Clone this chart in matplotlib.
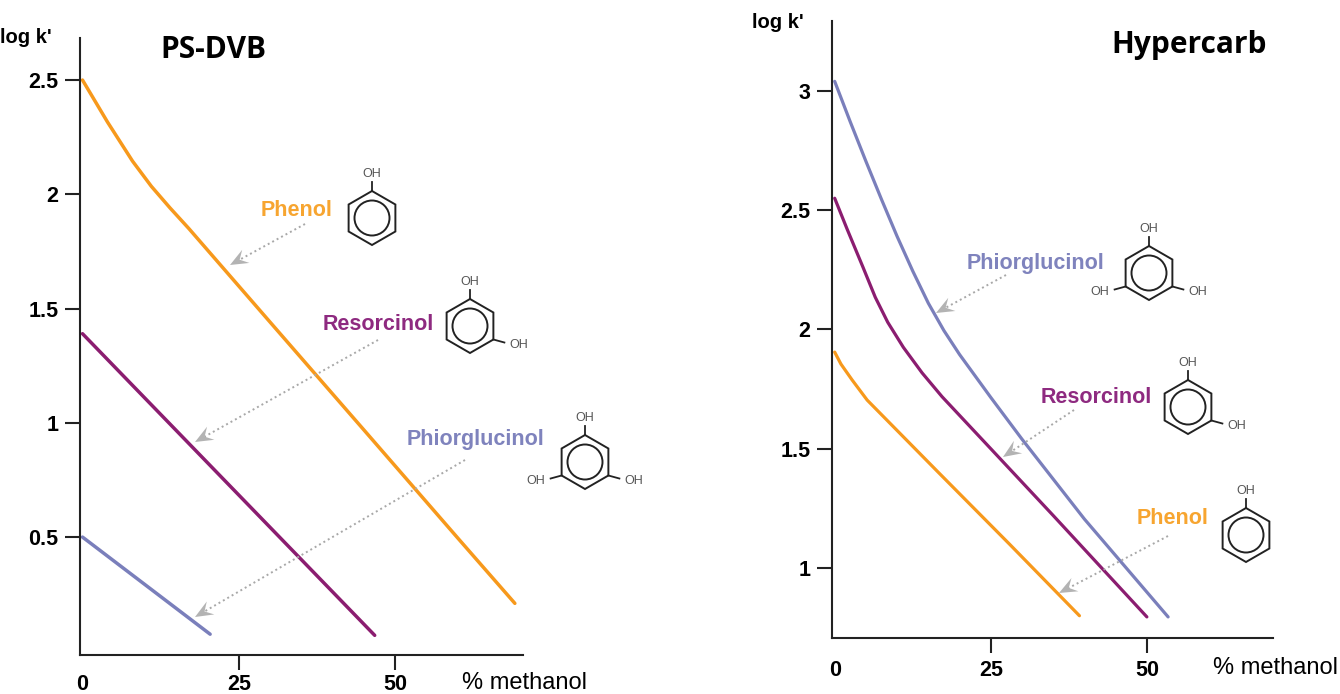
import numpy as np
import matplotlib
matplotlib.use("Agg")
import matplotlib.pyplot as plt
from matplotlib.patches import Circle, Polygon

plt.rcParams['font.family'] = ['Liberation Sans', 'DejaVu Sans']

# ---- data ----
# PS-DVB panel
ps_phenol_x = [0, 4, 8, 11, 14, 17, 30, 45, 60, 69.1]
ps_phenol_y = [2.50, 2.316, 2.145, 2.035, 1.94, 1.85, 1.44, 0.968, 0.495, 0.21]
ps_resorcinol_x = [0, 46.7]
ps_resorcinol_y = [1.39, 0.07]
ps_phloro_x = [0, 20.4]
ps_phloro_y = [0.50, 0.075]

# Hypercarb panel
hc_phloro_x = [0, 2.5, 5, 7.5, 10, 12.5, 15, 17.5, 20, 25, 30, 40, 53.4]
hc_phloro_y = [3.04, 2.87, 2.705, 2.545, 2.39, 2.245, 2.11, 1.995, 1.895, 1.715,
               1.54, 1.205, 0.795]
hc_resorcinol_x = [0, 2, 4.5, 6.5, 8.5, 11, 14, 17.2, 25, 35, 50]
hc_resorcinol_y = [2.55, 2.42, 2.263, 2.135, 2.03, 1.925, 1.818, 1.718, 1.50, 1.22, 0.795]
hc_phenol_x = [0, 1, 2.8, 5.2, 16.6, 28, 39.2]
hc_phenol_y = [1.905, 1.855, 1.788, 1.704, 1.401, 1.10, 0.80]

x_ticks = [0, 25, 50]
x_ticklabels = ['0', '25', '50']
ps_yticks = [0.5, 1, 1.5, 2, 2.5]
ps_yticklabels = ['0.5', '1', '1.5', '2', '2.5']
hc_yticks = [1, 1.5, 2, 2.5, 3]
hc_yticklabels = ['1', '1.5', '2', '2.5', '3']

ORANGE = '#f7991c'
PURPLE = '#8b1d70'
BLUE = '#7a7fbb'
LBL_ORANGE = '#f7a530'
LBL_PURPLE = '#8e2a80'
LBL_BLUE = '#7f83bd'
AXC = '#222222'

W, H = 1340, 694
fig = plt.figure(figsize=(W / 100, H / 100), dpi=100)


def px_axes(l, r, t, b):
    return fig.add_axes([l / W, 1 - b / H, (r - l) / W, (b - t) / H])


def style_axes(ax, yticks, yticklabels, xpad):
    for s in ['top', 'right']:
        ax.spines[s].set_visible(False)
    for s in ['left', 'bottom']:
        ax.spines[s].set_color(AXC)
        ax.spines[s].set_linewidth(1.5)
    ax.set_xticks(x_ticks)
    ax.set_xticklabels(x_ticklabels, fontweight='bold')
    ax.set_yticks(yticks)
    ax.set_yticklabels(yticklabels, fontweight='bold')
    ax.tick_params(direction='out', length=10.5, width=1.5, color=AXC,
                   labelsize=15.5, pad=5)
    ax.tick_params(axis='x', pad=xpad)
    ax.xaxis.get_major_ticks()[0].tick1line.set_visible(False)
    ax.patch.set_alpha(0)


ax1 = px_axes(80, 523, 38, 655)
ax1.set_xlim(-0.4, 70.4)
ax1.set_ylim(-0.016, 2.684)
style_axes(ax1, ps_yticks, ps_yticklabels, 3)
ax1.plot(ps_phenol_x, ps_phenol_y, color=ORANGE, lw=2.5, solid_capstyle='round')
ax1.plot(ps_resorcinol_x, ps_resorcinol_y, color=PURPLE, lw=2.5, solid_capstyle='round')
ax1.plot(ps_phloro_x, ps_phloro_y, color=BLUE, lw=2.5, solid_capstyle='round')

ax2 = px_axes(832, 1273, 21, 638)
ax2.set_xlim(-0.43, 70.2)
ax2.set_ylim(0.7066, 3.293)
style_axes(ax2, hc_yticks, hc_yticklabels, 5)
ax2.plot(hc_phloro_x, hc_phloro_y, color=BLUE, lw=2.3, solid_capstyle='round')
ax2.plot(hc_resorcinol_x, hc_resorcinol_y, color=PURPLE, lw=2.3, solid_capstyle='round')
ax2.plot(hc_phenol_x, hc_phenol_y, color=ORANGE, lw=2.3, solid_capstyle='round')

# overlay in pixel coordinates for labels, arrows and structures
ov = fig.add_axes([0, 0, 1, 1])
ov.set_xlim(0, W)
ov.set_ylim(H, 0)
ov.axis('off')
ov.patch.set_alpha(0)

ov.text(0, 37, "log k'", fontsize=14.5, fontweight='bold', ha='left', va='center')
ov.text(752, 22, "log k'", fontsize=14.5, fontweight='bold', ha='left', va='center')
ov.text(462, 683, "% methanol", fontsize=17, ha='left', va='center')
ov.text(1213, 668, "% methanol", fontsize=17, ha='left', va='center')
ov.text(213, 50, "PS-DVB", fontsize=21.5, fontweight='bold', family='Open Sans',
        ha='center', va='center')
ov.text(1189, 45, "Hypercarb", fontsize=21.5, fontweight='bold', family='Open Sans',
        ha='center', va='center')

labels = [
    ("Phenol", 297, 210, LBL_ORANGE),
    ("Resorcinol", 378, 324, LBL_PURPLE),
    ("Phiorglucinol", 475, 439, LBL_BLUE),
    ("Phiorglucinol", 1036, 263, LBL_BLUE),
    ("Resorcinol", 1096, 397, LBL_PURPLE),
    ("Phenol", 1173, 519, LBL_ORANGE),
]
for txt, x, y, c in labels:
    ov.text(x, y, txt, color=c, fontsize=15.5, fontweight='bold', ha='center', va='center')

arrows = [
    ((305, 224), (230, 265)),
    ((378, 340), (195, 442)),
    ((465, 460), (195, 617)),
    ((1006, 275), (936, 313)),
    ((1074, 410), (1003, 457)),
    ((1168, 536), (1059, 593)),
]
for (sx, sy), (tx, ty) in arrows:
    d = np.array([sx - tx, sy - ty], dtype=float)
    d /= np.hypot(*d)
    p = np.array([-d[1], d[0]])
    tip = np.array([tx, ty], dtype=float)
    L, hw, notch = 18, 7.5, 11
    ov.plot([sx, tx + notch * d[0]], [sy, ty + notch * d[1]], color='#a8a8a8', lw=1.4,
            ls=(0, (1, 1.6)))
    head = [tip, tip + L * d + hw * p, tip + notch * d, tip + L * d - hw * p]
    ov.add_patch(Polygon(head, closed=True, fc='#b3b3b3', ec='none'))


def benzene(cx, cy, subs):
    R = 27
    ang = np.deg2rad([90, 30, -30, -90, -150, 150])
    vx = cx + R * np.cos(ang)
    vy = cy - R * np.sin(ang)
    ov.plot(np.append(vx, vx[0]), np.append(vy, vy[0]), color=AXC, lw=1.4,
            solid_joinstyle='miter')
    ov.add_patch(Circle((cx, cy), 17.5, fill=False, ec=AXC, lw=1.4))
    for k in subs:
        if k == 0:
            ov.plot([vx[0], vx[0]], [vy[0], vy[0] - 9], color=AXC, lw=1.3)
            ov.text(cx, cy - 44, 'OH', fontsize=9, color='#555555', ha='center', va='center')
        else:
            sgn = 1 if k == 2 else -1
            ov.plot([vx[k], vx[k] + sgn * 11], [vy[k], vy[k] + 3], color=AXC, lw=1.3)
            ov.text(cx + sgn * 49, cy + 19, 'OH', fontsize=9, color='#555555',
                    ha='center', va='center')


benzene(372, 218, [0])
benzene(470, 326, [0, 2])
benzene(585, 462, [0, 2, 4])
benzene(1149, 273, [0, 2, 4])
benzene(1188, 407, [0, 2])
benzene(1246, 535, [0])

fig.savefig('out.png', dpi=100)
